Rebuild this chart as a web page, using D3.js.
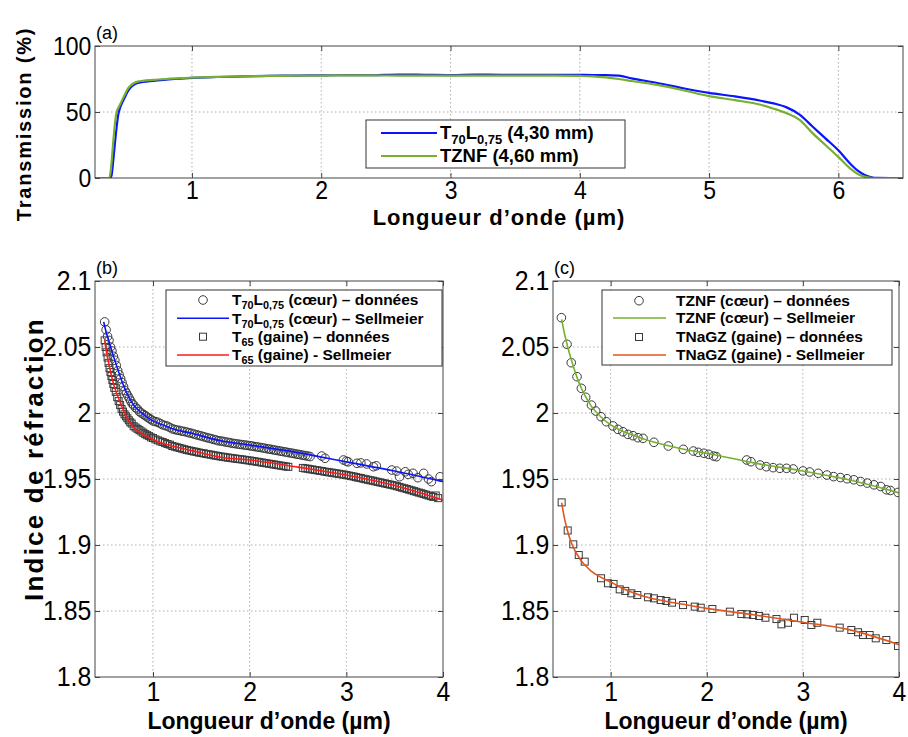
<!DOCTYPE html>
<html><head><meta charset="utf-8">
<script src="https://cdn.jsdelivr.net/npm/d3@7"></script>
<style>
body{margin:0;background:#fff;}
svg{display:block;font-family:"Liberation Sans",Arial,Helvetica,sans-serif;}
</style></head><body>
<svg id="chart" width="908" height="737"></svg>
<script>
// ---------- Panel (a): transmission ----------
const transWl = [0.25,0.36,0.37,0.38,0.39,0.40,0.41,0.42,0.43,0.44,0.46,0.48,0.50,0.52,0.55,0.58,0.62,0.7,0.8,0.9,1.0,1.2,1.4,1.6,1.8,2.0,2.2,2.4,2.6,2.8,3.0,3.2,3.4,3.6,3.8,4.0,4.1,4.2,4.3,4.4,4.6,4.8,5.0,5.2,5.4,5.5,5.6,5.7,5.8,5.9,6.0,6.1,6.15,6.2,6.25,6.3,6.4,6.5];
const transT70L = [0,0,0,3,12,22,32,41,48,52,57,61,65,68,70.5,72,72.8,73.6,74.5,75.2,75.8,76.5,77,77.4,77.6,77.8,77.9,78,78.4,78.2,78,78.3,78.2,78.1,78.2,78.1,78,78,77.5,75.5,72,68,64.5,61.8,58.5,56.5,53.5,48,39,30,21,10,5.5,2.5,0.8,0.1,0,0];
const transTZNF = [0,0,4,14,26,37,46,51,53,55,59,63,67,69.5,71.8,73,73.6,74.3,75,75.6,76,76.6,77,77.3,77.5,77.6,77.7,77.7,77.6,77.6,77.5,77.5,77.5,77.5,77.5,77.3,77,76.2,75,73.5,70.5,66.5,62,59,55.5,52.5,49,44,34,25,16,6.5,3,1,0.2,0,0,0];
const aXTicks = [1,2,3,4,5,6];
const aYTicks = [0,50,100];

// ---------- Panel (b): T70L0,75 (core) / T65 (cladding) ----------
const bCoreDataWl = [0.500,0.515,0.530,0.545,0.560,0.575,0.590,0.605,0.620,0.635,0.650,0.665,0.680,0.695,0.710,0.725,0.740,0.755,0.770,0.785,0.800,0.820,0.840,0.860,0.880,0.900,0.920,0.940,0.960,0.980,1.000,1.025,1.050,1.075,1.100,1.125,1.150,1.175,1.200,1.225,1.250,1.275,1.300,1.325,1.350,1.375,1.400,1.425,1.450,1.475,1.500,1.525,1.550,1.575,1.600,1.625,1.650,1.675,1.700,1.725,1.750,1.775,1.800,1.825,1.850,1.875,1.900,1.925,1.950,1.975,2.000,2.025,2.050,2.075,2.100,2.125,2.150,2.175,2.200,2.225,2.250,2.275,2.300,2.325,2.350,2.375,2.400,2.425,2.450,2.475,2.500,2.525,2.550,2.575,2.600,2.625,2.745,2.780,2.970,3.000,3.020,3.110,3.150,3.210,3.280,3.310,3.470,3.520,3.550,3.610,3.640,3.690,3.740,3.800,3.850,3.880,3.970];
const bCoreDataN  = [2.069,2.063,2.058,2.055,2.050,2.047,2.043,2.040,2.036,2.032,2.029,2.026,2.023,2.020,2.017,2.015,2.013,2.011,2.009,2.007,2.006,2.004,2.003,2.001,2.000,1.999,1.998,1.997,1.996,1.995,1.994,1.9935,1.993,1.992,1.991,1.9905,1.990,1.989,1.988,1.9875,1.987,1.9868,1.9862,1.986,1.9855,1.985,1.9846,1.984,1.9835,1.983,1.9826,1.982,1.9815,1.981,1.9806,1.980,1.9796,1.979,1.9788,1.9785,1.978,1.9778,1.9774,1.977,1.9768,1.9765,1.9762,1.976,1.9757,1.9755,1.9752,1.975,1.9746,1.9743,1.974,1.9737,1.9734,1.973,1.9727,1.9724,1.972,1.9717,1.9714,1.971,1.9707,1.9704,1.970,1.9697,1.9694,1.969,1.9687,1.9684,1.968,1.9677,1.9674,1.967,1.9674,1.9657,1.9644,1.9635,1.963,1.9619,1.9622,1.9614,1.9593,1.960,1.9568,1.956,1.9517,1.9555,1.9535,1.9543,1.951,1.9543,1.950,1.948,1.9517];
const bCladDataWl = [0.500,0.510,0.520,0.530,0.540,0.550,0.560,0.570,0.580,0.590,0.600,0.615,0.630,0.645,0.660,0.675,0.690,0.705,0.720,0.735,0.750,0.765,0.780,0.800,0.820,0.840,0.860,0.880,0.900,0.920,0.940,0.960,0.980,1.000,1.025,1.050,1.075,1.100,1.125,1.150,1.175,1.200,1.225,1.250,1.275,1.300,1.325,1.350,1.375,1.400,1.425,1.450,1.475,1.500,1.525,1.550,1.575,1.600,1.625,1.650,1.675,1.700,1.725,1.750,1.775,1.800,1.825,1.850,1.875,1.900,1.925,1.950,1.975,2.000,2.025,2.050,2.075,2.100,2.125,2.150,2.175,2.200,2.225,2.250,2.275,2.300,2.325,2.350,2.375,2.400,2.550,2.575,2.600,2.625,2.650,2.675,2.700,2.725,2.750,2.775,2.800,2.825,2.850,2.875,2.900,2.925,2.950,2.975,3.000,3.025,3.050,3.075,3.100,3.125,3.150,3.175,3.200,3.225,3.250,3.275,3.300,3.325,3.350,3.375,3.400,3.425,3.450,3.475,3.500,3.525,3.550,3.575,3.600,3.625,3.650,3.675,3.700,3.725,3.750,3.775,3.800,3.825,3.850,3.875,3.900,3.925,3.950];
const bCladDataN  = [2.055,2.050,2.046,2.042,2.038,2.034,2.031,2.028,2.025,2.022,2.019,2.016,2.012,2.009,2.006,2.003,2.001,1.999,1.9975,1.996,1.9945,1.993,1.992,1.990,1.989,1.988,1.987,1.986,1.985,1.984,1.9832,1.9825,1.9815,1.981,1.980,1.9793,1.9785,1.978,1.9772,1.9765,1.976,1.975,1.9745,1.974,1.9735,1.973,1.9725,1.972,1.9716,1.9712,1.9708,1.9705,1.970,1.9697,1.9694,1.969,1.9687,1.9684,1.968,1.9677,1.9674,1.967,1.9668,1.9665,1.9662,1.966,1.9657,1.9655,1.9652,1.965,1.9648,1.9645,1.9642,1.964,1.9637,1.9634,1.9631,1.9628,1.9625,1.9622,1.9619,1.9616,1.9613,1.961,1.9607,1.9604,1.9601,1.9598,1.9595,1.9592,1.9584,1.958,1.9578,1.9574,1.9572,1.9568,1.9566,1.9562,1.956,1.9556,1.9553,1.955,1.9548,1.9544,1.9542,1.9539,1.9536,1.9533,1.953,1.9526,1.9522,1.9519,1.9514,1.951,1.9507,1.9502,1.9498,1.9494,1.949,1.9487,1.9482,1.9478,1.9474,1.947,1.9466,1.9462,1.9458,1.9454,1.945,1.9445,1.944,1.9434,1.943,1.9424,1.9419,1.9414,1.9408,1.9403,1.9397,1.9392,1.9386,1.9381,1.9375,1.937,1.9364,1.9375,1.9355];
const bCoreFitWl = [0.49,0.52,0.55,0.6,0.65,0.7,0.75,0.8,0.9,1.0,1.1,1.2,1.4,1.7,2.0,2.5,3.0,3.5,4.0];
const bCoreFitN  = [2.069,2.060,2.053,2.041,2.030,2.020,2.012,2.006,1.999,1.994,1.991,1.988,1.9846,1.979,1.9758,1.970,1.963,1.956,1.948];
const bCladFitWl = [0.5,0.52,0.55,0.6,0.65,0.7,0.75,0.8,0.9,1.0,1.1,1.2,1.4,1.7,2.0,2.5,3.0,3.5,4.0];
const bCladFitN  = [2.055,2.046,2.035,2.020,2.010,2.001,1.994,1.989,1.9835,1.980,1.977,1.975,1.9715,1.9665,1.9644,1.959,1.953,1.945,1.934];

// ---------- Panel (c): TZNF (core) / TNaGZ (cladding) ----------
const cCoreDataWl = [0.487,0.546,0.59,0.65,0.695,0.74,0.80,0.844,0.90,0.955,1.024,1.076,1.128,1.18,1.232,1.284,1.337,1.45,1.60,1.756,1.86,1.91,1.97,2.02,2.07,2.10,2.415,2.46,2.555,2.62,2.69,2.76,2.83,2.90,3.0,3.07,3.16,3.25,3.32,3.39,3.46,3.53,3.60,3.67,3.74,3.81,3.87,3.91,3.99];
const cCoreDataN  = [2.0722,2.052,2.0381,2.0275,2.0187,2.0119,2.006,2.0015,1.9972,1.9934,1.9902,1.9876,1.9858,1.9838,1.9828,1.9813,1.9808,1.9778,1.975,1.9725,1.9712,1.9702,1.9695,1.9687,1.9674,1.9669,1.9644,1.9631,1.9606,1.9593,1.9586,1.9581,1.9581,1.9576,1.9561,1.9553,1.9543,1.953,1.9518,1.9511,1.9502,1.9494,1.9481,1.9469,1.9456,1.9443,1.9418,1.9413,1.9398];
const cCladDataWl = [0.49,0.553,0.611,0.668,0.73,0.90,0.972,1.03,1.094,1.152,1.215,1.277,1.389,1.45,1.52,1.579,1.638,1.753,1.875,1.937,2.058,2.24,2.36,2.42,2.48,2.545,2.61,2.725,2.777,2.845,2.907,3.019,3.088,3.15,3.383,3.504,3.574,3.626,3.695,3.758,3.868,3.99];
const cCladDataN  = [1.9323,1.911,1.9005,1.8924,1.8874,1.8748,1.871,1.8705,1.8664,1.8652,1.8634,1.8621,1.8604,1.8596,1.8583,1.8576,1.8563,1.8545,1.8533,1.8525,1.8515,1.8495,1.8477,1.8475,1.847,1.8462,1.8449,1.8439,1.8399,1.8411,1.8449,1.8432,1.8394,1.8411,1.8374,1.8356,1.8339,1.8318,1.8318,1.8293,1.828,1.8235];
const cCoreFitWl = [0.49,0.52,0.55,0.6,0.65,0.7,0.75,0.8,0.9,1.0,1.1,1.2,1.4,1.6,1.8,2.0,2.5,3.0,3.5,4.0];
const cCoreFitN  = [2.071,2.060,2.051,2.038,2.027,2.018,2.011,2.005,1.997,1.991,1.987,1.984,1.979,1.9752,1.972,1.9695,1.962,1.956,1.949,1.9395];
const cCladFitWl = [0.49,0.52,0.55,0.6,0.65,0.7,0.75,0.8,0.9,1.0,1.1,1.2,1.4,1.6,1.8,2.0,2.5,3.0,3.5,4.0];
const cCladFitN  = [1.932,1.920,1.911,1.900,1.893,1.8875,1.8835,1.880,1.8755,1.872,1.868,1.8648,1.860,1.857,1.8545,1.852,1.847,1.8415,1.8355,1.8245];

const nXTicks = [1,2,3,4];
const nYTicks = [1.8,1.85,1.9,1.95,2,2.05,2.1];
const nYLabels = ["1.8","1.85","1.9","1.95","2","2.05","2.1"];

// ---------- drawing ----------
const svg = d3.select("#chart");
const zip = (a,b) => a.map((v,i)=>[v,b[i]]);
const TICK_SX = 0.92;

function panel(o){
  const x = d3.scaleLinear().domain(o.xd).range([o.l,o.r]);
  const y = d3.scaleLinear().domain(o.yd).range([o.b,o.t]);
  const g = svg.append("g");
  g.append("rect").attr("x",o.l).attr("y",o.t).attr("width",o.r-o.l).attr("height",o.b-o.t).attr("fill","#fff");
  g.append("g").selectAll("line").data(o.xgrid).join("line")
    .attr("x1",d=>x(d)).attr("x2",d=>x(d)).attr("y1",o.t).attr("y2",o.b)
    .attr("stroke","#9a9a9a").attr("stroke-width",0.8).attr("stroke-dasharray","1.5,2.5");
  g.append("g").selectAll("line").data(o.ygrid).join("line")
    .attr("y1",d=>y(d)).attr("y2",d=>y(d)).attr("x1",o.l).attr("x2",o.r)
    .attr("stroke","#9a9a9a").attr("stroke-width",0.8).attr("stroke-dasharray","1.5,2.5");
  const style = (sel, fs) => {
    sel.select(".domain").remove();
    sel.selectAll(".tick line").attr("stroke","#444");
    sel.selectAll(".tick text").attr("fill","#000").attr("font-size",fs).attr("transform",`scale(${TICK_SX},1)`);
  };
  g.append("g").attr("transform",`translate(0,${o.b})`)
    .call(d3.axisBottom(x).tickValues(o.xticks).tickSizeInner(-5).tickSizeOuter(0).tickPadding(o.xpad).tickFormat(d3.format("d")))
    .call(s=>style(s,o.fs));
  g.append("g").attr("transform",`translate(0,${o.t})`)
    .call(d3.axisTop(x).tickValues(o.xticks).tickSizeInner(-5).tickSizeOuter(0).tickFormat(""))
    .call(s=>style(s,o.fs));
  g.append("g").attr("transform",`translate(${o.l},0)`)
    .call(d3.axisLeft(y).tickValues(o.yticks).tickSizeInner(-5).tickSizeOuter(0).tickPadding(o.ypad).tickFormat((d,i)=>o.ylabels[i]))
    .call(s=>style(s,o.fs));
  g.append("g").attr("transform",`translate(${o.r},0)`)
    .call(d3.axisRight(y).tickValues(o.yticks).tickSizeInner(-5).tickSizeOuter(0).tickFormat(""))
    .call(s=>style(s,o.fs));
  const clipId = "clip"+o.id;
  svg.append("clipPath").attr("id",clipId).append("rect").attr("x",o.l).attr("y",o.t).attr("width",o.r-o.l).attr("height",o.b-o.t);
  const plot = g.append("g").attr("clip-path",`url(#${clipId})`);
  g.append("rect").attr("x",o.l).attr("y",o.t).attr("width",o.r-o.l).attr("height",o.b-o.t)
    .attr("fill","none").attr("stroke","#444").attr("stroke-width",1);
  g.append("text").attr("x",o.l+1).attr("y",o.t-7).attr("font-size",18).text(o.tag);
  g.append("text").attr("x",(o.l+o.r)/2).attr("y",o.xlabY).attr("text-anchor","middle")
    .attr("font-size",o.xlabFs).attr("font-weight","bold").attr("letter-spacing",o.xlabLs||0)
    .text("Longueur d\u2019onde (\u00b5m)");
  return {x,y,plot,g};
}

const markerStroke = "#3a3a3a";
function circles(p, wl, n){
  p.plot.append("g").selectAll("circle").data(zip(wl,n)).join("circle")
    .attr("cx",d=>p.x(d[0])).attr("cy",d=>p.y(d[1])).attr("r",4.3)
    .attr("fill","none").attr("stroke",markerStroke).attr("stroke-width",1);
}
function squares(p, wl, n){
  const s = 7;
  p.plot.append("g").selectAll("rect").data(zip(wl,n)).join("rect")
    .attr("x",d=>p.x(d[0])-s/2).attr("y",d=>p.y(d[1])-s/2).attr("width",s).attr("height",s)
    .attr("fill","none").attr("stroke",markerStroke).attr("stroke-width",1);
}
function curve(p, wl, n, color, w){
  const line = d3.line().x(d=>p.x(d[0])).y(d=>p.y(d[1])).curve(d3.curveMonotoneX);
  p.plot.append("path").datum(zip(wl,n)).attr("d",line).attr("fill","none")
    .attr("stroke",color).attr("stroke-width",w).attr("stroke-linejoin","round");
}

const BLUE = "#0a14ff", GREEN = "#77b02e", RED = "#ff1a1a", ORANGE = "#e0561d";

// Panel a
const pa = panel({id:"a",l:95,r:903,t:46,b:178,xd:[0.25,6.5],yd:[0,100],
  xticks:aXTicks,yticks:aYTicks,ylabels:aYTicks.map(String),xgrid:aXTicks,ygrid:[50],
  fs:25,xpad:3,ypad:4,tag:"(a)",xlabY:225,xlabFs:22,xlabLs:1});
curve(pa, transWl, transT70L, BLUE, 2.2);
curve(pa, transWl, transTZNF, GREEN, 2.2);

// Panel b
const pb = panel({id:"b",l:95,r:443,t:281,b:677,xd:[0.4,4],yd:[1.8,2.1],
  xticks:nXTicks,yticks:nYTicks,ylabels:nYLabels,xgrid:[1,2,3],ygrid:[1.85,1.9,1.95,2,2.05],
  fs:27,xpad:5,ypad:4,tag:"(b)",xlabY:729,xlabFs:23});
circles(pb, bCoreDataWl, bCoreDataN);
squares(pb, bCladDataWl, bCladDataN);
curve(pb, bCoreFitWl, bCoreFitN, BLUE, 1.6);
curve(pb, bCladFitWl, bCladFitN, RED, 1.6);

// Panel c
const pc = panel({id:"c",l:553,r:899,t:281,b:677,xd:[0.4,4],yd:[1.8,2.1],
  xticks:nXTicks,yticks:nYTicks,ylabels:nYLabels,xgrid:[1,2,3],ygrid:[1.85,1.9,1.95,2,2.05],
  fs:27,xpad:5,ypad:4,tag:"(c)",xlabY:729,xlabFs:23});
circles(pc, cCoreDataWl, cCoreDataN);
squares(pc, cCladDataWl, cCladDataN);
curve(pc, cCoreFitWl, cCoreFitN, GREEN, 1.6);
curve(pc, cCladFitWl, cCladFitN, ORANGE, 1.6);

// y axis titles
svg.append("text").attr("transform","translate(31,124) rotate(-90)").attr("text-anchor","middle")
  .attr("font-size",20).attr("font-weight","bold").attr("letter-spacing",1.8).text("Transmission (%)");
svg.append("text").attr("transform","translate(43,459) rotate(-90)").attr("text-anchor","middle")
  .attr("font-size",26).attr("font-weight","bold").attr("letter-spacing",2.2).text("Indice de r\u00e9fraction");

// legends
function richText(sel, parts, fs){
  parts.forEach(p=>{
    const t = sel.append("tspan").text(p.t);
    if(p.sub){ t.attr("font-size",fs*0.7).attr("dy",fs*0.25); }
    else if(p.after){ t.attr("dy",-fs*0.25); }
  });
}
function legend(o){
  const g = svg.append("g");
  g.append("rect").attr("x",o.x0).attr("y",o.y0).attr("width",o.x1-o.x0).attr("height",o.y1-o.y0)
    .attr("fill","#fff").attr("stroke","#333").attr("stroke-width",1);
  o.items.forEach((it,i)=>{
    const yy = o.rows[i];
    if(it.type==="line"){
      g.append("line").attr("x1",o.lx0).attr("x2",o.lx1).attr("y1",yy).attr("y2",yy)
        .attr("stroke",it.color).attr("stroke-width",o.lw);
    } else if(it.type==="circle"){
      g.append("circle").attr("cx",o.mx).attr("cy",yy).attr("r",4.3).attr("fill","none").attr("stroke",markerStroke);
    } else {
      g.append("rect").attr("x",o.mx-3.5).attr("y",yy-3.5).attr("width",7).attr("height",7).attr("fill","none").attr("stroke",markerStroke);
    }
    const t = g.append("text").attr("x",o.tx).attr("y",yy+o.fs*0.35).attr("font-size",o.fs).attr("font-weight","bold");
    richText(t, it.label, o.fs);
  });
}
const T70 = (rest)=>[{t:"T"},{t:"70",sub:true},{t:"L",after:true},{t:"0,75",sub:true},{t:rest,after:true}];
const T65 = (rest)=>[{t:"T"},{t:"65",sub:true},{t:rest,after:true}];

legend({x0:366,y0:120,x1:625,y1:168,rows:[133,156],lx0:381,lx1:437,mx:409,tx:440,fs:18.5,lw:2.2,
  items:[{type:"line",color:BLUE,label:T70(" (4,30 mm)")},{type:"line",color:GREEN,label:[{t:"TZNF (4,60 mm)"}]}]});
legend({x0:166,y0:290,x1:442,y1:366,rows:[300,318.3,336.7,355],lx0:177,lx1:229,mx:203,tx:232,fs:15.5,lw:1.6,
  items:[{type:"circle",label:T70(" (c\u0153ur) \u2013 donn\u00e9es")},
         {type:"line",color:BLUE,label:T70(" (c\u0153ur) \u2013 Sellmeier")},
         {type:"square",label:T65(" (gaine) \u2013 donn\u00e9es")},
         {type:"line",color:RED,label:T65(" (gaine) - Sellmeier")}]});
legend({x0:602,y0:290,x1:892,y1:365,rows:[300.7,318,337,355],lx0:613,lx1:666,mx:639,tx:676,fs:15.5,lw:1.6,
  items:[{type:"circle",label:[{t:"TZNF (c\u0153ur) \u2013 donn\u00e9es"}]},
         {type:"line",color:GREEN,label:[{t:"TZNF (c\u0153ur) \u2013 Sellmeier"}]},
         {type:"square",label:[{t:"TNaGZ (gaine) \u2013 donn\u00e9es"}]},
         {type:"line",color:ORANGE,label:[{t:"TNaGZ (gaine) - Sellmeier"}]}]});
</script></body></html>
